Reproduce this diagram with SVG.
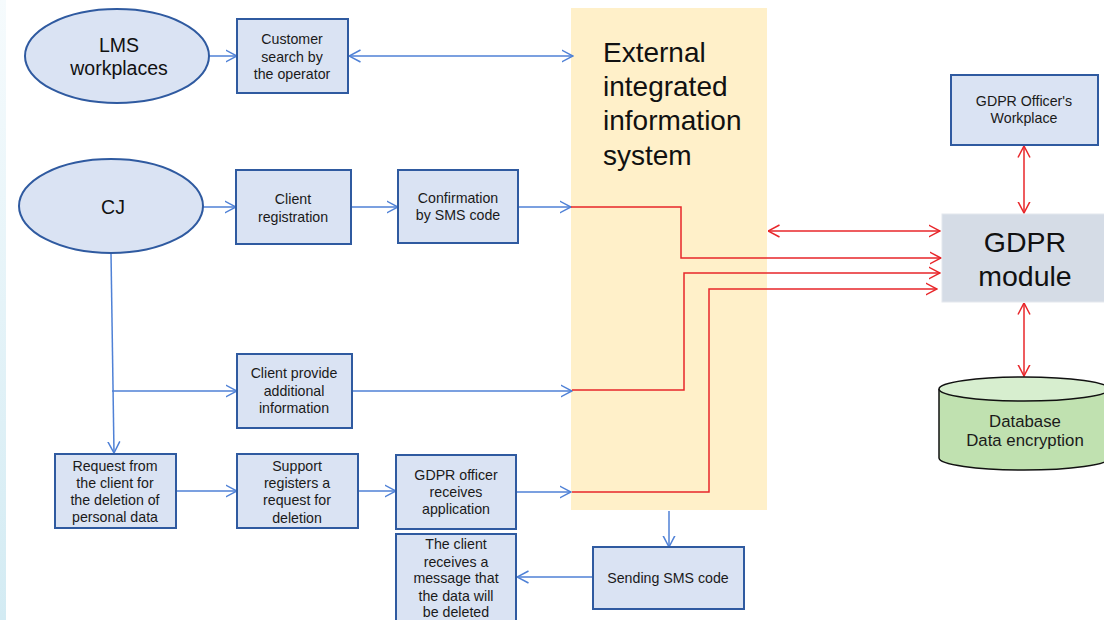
<svg xmlns="http://www.w3.org/2000/svg" width="1104" height="620" viewBox="0 0 1104 620">
  <style>
    .box { fill: #dae3f3; stroke: #2f5aa0; stroke-width: 2; }
    .oval { fill: #dae3f3; stroke: #2f5aa0; stroke-width: 2; }
    .t { font-family: "Liberation Sans", Arial, sans-serif; font-size: 14.2px; fill: #1a1a1a; text-anchor: middle; }
    .db { font-family: "Liberation Sans", Arial, sans-serif; font-size: 16.8px; fill: #1a1a1a; text-anchor: middle; }
    .big { font-family: "Liberation Sans", Arial, sans-serif; font-size: 28px; fill: #111; }
    .mod { font-family: "Liberation Sans", Arial, sans-serif; font-size: 28.5px; fill: #111; text-anchor: middle; }
    .mid { font-family: "Liberation Sans", Arial, sans-serif; font-size: 19.5px; fill: #111; text-anchor: middle; }
    .blue { fill: none; stroke: #4f81d6; stroke-width: 1.5; }
    .red { fill: none; stroke: #e8262a; stroke-width: 1.5; }
  </style>
  <defs>
    <linearGradient id="edge" x1="0" y1="0" x2="0" y2="1">
      <stop offset="0" stop-color="#f6fbfd"/>
      <stop offset="1" stop-color="#d3ebf3"/>
    </linearGradient>
    <marker id="ab" viewBox="0 0 12 14" refX="11.5" refY="7" markerWidth="12" markerHeight="14" markerUnits="userSpaceOnUse" orient="auto-start-reverse">
      <path d="M0,1 L11.5,7 L0,13" fill="none" stroke="#4f81d6" stroke-width="1.5"/>
    </marker>
    <marker id="ar" viewBox="0 0 12 14" refX="11.5" refY="7" markerWidth="12" markerHeight="14" markerUnits="userSpaceOnUse" orient="auto-start-reverse">
      <path d="M0,1 L11.5,7 L0,13" fill="none" stroke="#e8262a" stroke-width="1.5"/>
    </marker>
  </defs>

  <rect x="0" y="0" width="1104" height="620" fill="#ffffff"/>
  <rect x="0" y="0" width="6" height="620" fill="url(#edge)"/>

  <!-- external system band -->
  <g id="external-system">
    <rect x="571" y="8" width="196" height="502" fill="#fff0c9"/>
    <text class="big" x="603" y="62">External</text>
    <text class="big" x="603" y="96">integrated</text>
    <text class="big" x="603" y="130">information</text>
    <text class="big" x="603" y="165">system</text>
  </g>

  <!-- connectors -->
  <g id="connectors">
    <line class="blue" x1="209" y1="56" x2="237" y2="56" marker-end="url(#ab)"/>
    <line class="blue" x1="349" y1="56" x2="573" y2="56" marker-start="url(#ab)" marker-end="url(#ab)"/>
    <line class="blue" x1="203" y1="207" x2="236" y2="207" marker-end="url(#ab)"/>
    <line class="blue" x1="351" y1="207" x2="398" y2="207" marker-end="url(#ab)"/>
    <line class="blue" x1="518" y1="207" x2="571" y2="207" marker-end="url(#ab)"/>
    <line class="blue" x1="111" y1="253" x2="114" y2="453" marker-end="url(#ab)"/>
    <line class="blue" x1="112" y1="391" x2="237" y2="391" marker-end="url(#ab)"/>
    <line class="blue" x1="352" y1="391" x2="572" y2="391" marker-end="url(#ab)"/>
    <line class="blue" x1="176" y1="491" x2="237" y2="491" marker-end="url(#ab)"/>
    <line class="blue" x1="358" y1="491" x2="396" y2="491" marker-end="url(#ab)"/>
    <line class="blue" x1="516" y1="492" x2="571" y2="492" marker-end="url(#ab)"/>
    <line class="blue" x1="669" y1="511" x2="669" y2="547" marker-end="url(#ab)"/>
    <line class="blue" x1="593" y1="577" x2="517" y2="577" marker-end="url(#ab)"/>

    <polyline class="red" points="571,207 681,207 681,258 941,258" marker-end="url(#ar)"/>
    <polyline class="red" points="572,390 684,390 684,273 940,273" marker-end="url(#ar)"/>
    <polyline class="red" points="572,492 709,492 709,289 937,289" marker-end="url(#ar)"/>
    <line class="red" x1="768" y1="231" x2="940" y2="231" marker-start="url(#ar)" marker-end="url(#ar)"/>
    <line class="red" x1="1024" y1="146" x2="1024" y2="213" marker-start="url(#ar)" marker-end="url(#ar)"/>
    <line class="red" x1="1024" y1="303" x2="1024" y2="376" marker-start="url(#ar)" marker-end="url(#ar)"/>
  </g>

  <g id="lms-workplaces">
    <ellipse class="oval" cx="117" cy="56" rx="92" ry="47"/>
    <text class="mid" x="119" y="52">LMS</text>
    <text class="mid" x="119" y="75">workplaces</text>
  </g>

  <g id="cj">
    <ellipse class="oval" cx="111" cy="206" rx="92" ry="47"/>
    <text class="mid" x="113" y="214">CJ</text>
  </g>

  <g id="customer-search">
    <rect class="box" x="237" y="19" width="111" height="74"/>
    <text class="t" x="292" y="44">Customer</text>
    <text class="t" x="292" y="62">search by</text>
    <text class="t" x="292" y="79">the operator</text>
  </g>

  <g id="client-registration">
    <rect class="box" x="236" y="170" width="115" height="74"/>
    <text class="t" x="293" y="204">Client</text>
    <text class="t" x="293" y="222">registration</text>
  </g>

  <g id="sms-confirmation">
    <rect class="box" x="398" y="170" width="120" height="73"/>
    <text class="t" x="458" y="203">Confirmation</text>
    <text class="t" x="458" y="220">by SMS code</text>
  </g>

  <g id="additional-info">
    <rect class="box" x="237" y="354" width="115" height="74"/>
    <text class="t" x="294" y="378">Client provide</text>
    <text class="t" x="294" y="396">additional</text>
    <text class="t" x="294" y="413">information</text>
  </g>

  <g id="deletion-request">
    <rect class="box" x="55" y="454" width="121" height="74"/>
    <text class="t" x="115" y="471">Request from</text>
    <text class="t" x="115" y="488">the client for</text>
    <text class="t" x="115" y="505">the deletion of</text>
    <text class="t" x="115" y="522">personal data</text>
  </g>

  <g id="support-registers">
    <rect class="box" x="237" y="454" width="121" height="74"/>
    <text class="t" x="297" y="471">Support</text>
    <text class="t" x="297" y="488">registers a</text>
    <text class="t" x="297" y="505">request for</text>
    <text class="t" x="297" y="523">deletion</text>
  </g>

  <g id="officer-receives">
    <rect class="box" x="396" y="455" width="120" height="74"/>
    <text class="t" x="456" y="480">GDPR officer</text>
    <text class="t" x="456" y="497">receives</text>
    <text class="t" x="456" y="514">application</text>
  </g>

  <g id="client-notified">
    <rect class="box" x="396" y="534" width="120" height="96"/>
    <text class="t" x="456" y="549">The client</text>
    <text class="t" x="456" y="567">receives a</text>
    <text class="t" x="456" y="583">message that</text>
    <text class="t" x="456" y="601">the data will</text>
    <text class="t" x="456" y="617">be deleted</text>
  </g>

  <g id="sending-sms">
    <rect class="box" x="593" y="547" width="151" height="62"/>
    <text class="t" x="668" y="583">Sending SMS code</text>
  </g>

  <g id="officer-workplace">
    <rect class="box" x="951" y="75" width="147" height="70"/>
    <text class="t" x="1024" y="106">GDPR Officer's</text>
    <text class="t" x="1024" y="123">Workplace</text>
  </g>

  <g id="gdpr-module">
    <rect x="942" y="214" width="170" height="88" fill="#d5dce6" stroke="#e4e8ee" stroke-width="1"/>
    <text class="mod" x="1025" y="252">GDPR</text>
    <text class="mod" x="1025" y="286">module</text>
  </g>

  <g id="database">
    <path d="M939,389 L939,458 A85,12 0 0 0 1109,458 L1109,389" fill="#c0e1b0" stroke="#111" stroke-width="1.5"/>
    <ellipse cx="1024" cy="389" rx="85" ry="12" fill="#d7eecf" stroke="#111" stroke-width="1.5"/>
    <text class="db" x="1025" y="427">Database</text>
    <text class="db" x="1025" y="446">Data encryption</text>
  </g>
</svg>
